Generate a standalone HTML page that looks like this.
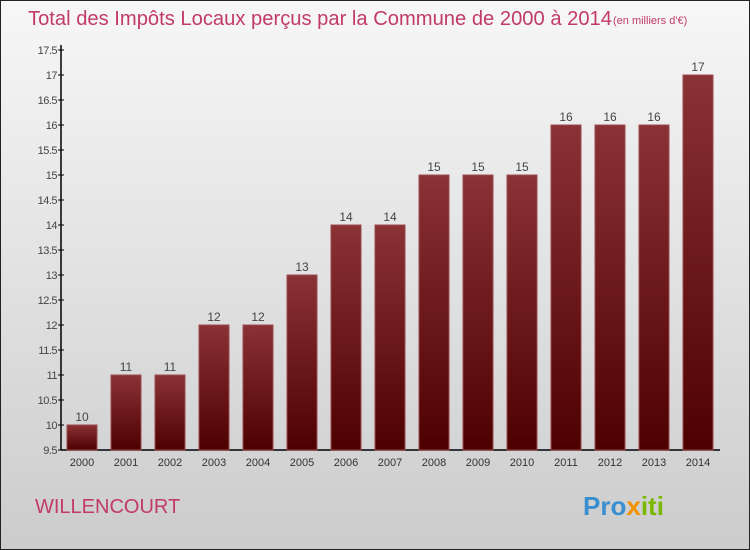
<!DOCTYPE html>
<html><head><meta charset="utf-8"><style>
body{margin:0;width:750px;height:550px;overflow:hidden;font-family:"Liberation Sans",sans-serif}
#frame{position:absolute;left:0;top:0;width:748px;height:548px;border:1px solid #222;background:linear-gradient(#f7f7f7,#cccccc)}
</style></head><body>
<div id="frame"></div>
<svg width="750" height="550" style="position:absolute;left:0;top:0" id="chart">
<defs><linearGradient id="bg" x1="0" y1="0" x2="0" y2="1"><stop offset="0" stop-color="#8a3236"/><stop offset="1" stop-color="#4e0000"/></linearGradient></defs>
<text x="28" y="25" font-size="20" fill="#c23a6a" textLength="584" lengthAdjust="spacingAndGlyphs">Total des Impôts Locaux perçus par la Commune de 2000 à 2014</text>
<text x="613" y="24" font-size="11" fill="#c23a6a">(en milliers d'€)</text>
<text x="35" y="513" font-size="20" fill="#c23a6a">WILLENCOURT</text>
<text x="583" y="515" font-size="26" font-weight="bold"><tspan fill="#3a8fd0">Pro</tspan><tspan fill="#f39200">x</tspan><tspan fill="#7ab800">iti</tspan></text>
<g id="g"></g>
</svg>
<script>
const years=["2000","2001","2002","2003","2004","2005","2006","2007","2008","2009","2010","2011","2012","2013","2014"];
const values=[10,11,11,12,12,13,14,14,15,15,15,16,16,16,17];
const ticks=[9.5,10,10.5,11,11.5,12,12.5,13,13.5,14,14.5,15,15.5,16,16.5,17,17.5];
const ns="http://www.w3.org/2000/svg",g=document.getElementById('g');
const y=v=>450-(v-9.5)*50, x=i=>67+i*44;
function mk(t,a,txt){const e=document.createElementNS(ns,t);for(const k in a)e.setAttribute(k,a[k]);if(txt!=null)e.textContent=txt;g.appendChild(e);return e;}
let e=mk('line',{x1:61,y1:45,x2:61,y2:450,stroke:'#000','stroke-width':1.5});


e=mk('line',{x1:61,y1:450,x2:720,y2:450,stroke:'#000','stroke-width':1.5});


ticks.forEach(t=>{
 e=mk('line',{x1:58,x2:64,y1:y(t),y2:y(t),stroke:'#000'});
 
 
 e=mk('text',{x:57,y:y(t)+4,'text-anchor':'end','font-size':11,fill:'#444','letter-spacing':'-0.5'},String(t));
 
 
});
years.forEach((yr,i)=>{
 const v=values[i];
 e=mk('rect',{x:x(i),y:y(v),width:30,height:450-y(v),fill:'url(#bg)',stroke:'#9a4a4e','stroke-width':1});
 
 
 e=mk('text',{x:x(i)+15,y:y(v)-4,'text-anchor':'middle','font-size':12,fill:'#444'},String(v));
 
 
 e=mk('text',{x:x(i)+15,y:466,'text-anchor':'middle','font-size':11,fill:'#333'},yr);
 
 
});
</script>
</body></html>
